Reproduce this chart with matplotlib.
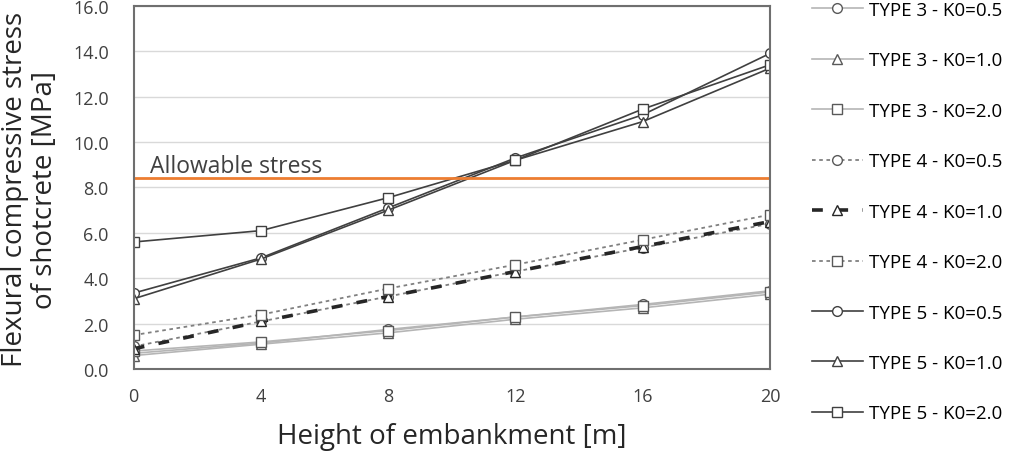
import matplotlib.pyplot as plt

plt.rcParams['font.family'] = ['Open Sans', 'DejaVu Sans']

height = [0, 4, 8, 12, 16, 20]

type3_k05 = [0.7, 1.15, 1.75, 2.3, 2.85, 3.45]
type3_k10 = [0.6, 1.1, 1.6, 2.2, 2.7, 3.3]
type3_k20 = [0.8, 1.2, 1.7, 2.3, 2.8, 3.4]
type4_k05 = [1.0, 2.1, 3.2, 4.3, 5.35, 6.4]
type4_k10 = [0.9, 2.1, 3.2, 4.3, 5.4, 6.5]
type4_k20 = [1.5, 2.4, 3.55, 4.6, 5.7, 6.8]
type5_k05 = [3.35, 4.9, 7.1, 9.3, 11.2, 13.9]
type5_k10 = [3.1, 4.85, 7.0, 9.2, 10.9, 13.25]
type5_k20 = [5.6, 6.1, 7.55, 9.2, 11.45, 13.4]

allowable = 8.4

fig = plt.figure(figsize=(10.13, 4.52), dpi=100)
ax = fig.add_axes([0.132, 0.181, 0.628, 0.804])

gray3 = '#b5b5b5'
gray4 = '#808080'
dark5 = '#404040'
mk = dict(markersize=7, markerfacecolor='white', markeredgewidth=1.0)

ax.plot(height, type3_k05, '-', color=gray3, lw=1.2, marker='o', markeredgecolor='#595959', label='TYPE 3 - K0=0.5', **mk)
ax.plot(height, type3_k10, '-', color=gray3, lw=1.2, marker='^', markeredgecolor='#595959', label='TYPE 3 - K0=1.0', **mk)
ax.plot(height, type3_k20, '-', color=gray3, lw=1.2, marker='s', markeredgecolor='#595959', label='TYPE 3 - K0=2.0', **mk)
ax.plot(height, type4_k05, color=gray4, lw=1.3, ls=(0, (2, 2)), marker='o', markeredgecolor='#595959', label='TYPE 4 - K0=0.5', **mk)
ax.plot(height, type4_k10, color='#262626', lw=2.6, ls=(0, (3, 4)), marker='^', markeredgecolor='#262626', label='TYPE 4 - K0=1.0', **mk)
ax.plot(height, type4_k20, color=gray4, lw=1.3, ls=(0, (2, 2)), marker='s', markeredgecolor='#595959', label='TYPE 4 - K0=2.0', **mk)
ax.plot(height, type5_k05, '-', color=dark5, lw=1.2, marker='o', markeredgecolor=dark5, label='TYPE 5 - K0=0.5', **mk)
ax.plot(height, type5_k10, '-', color=dark5, lw=1.2, marker='^', markeredgecolor=dark5, label='TYPE 5 - K0=1.0', **mk)
ax.plot(height, type5_k20, '-', color=dark5, lw=1.2, marker='s', markeredgecolor=dark5, label='TYPE 5 - K0=2.0', **mk)

ax.axhline(allowable, color='#ED7D31', lw=2)
ax.text(0.5, allowable + 0.27, 'Allowable stress', fontsize=16.5, color='#404040', va='baseline')

ax.set_xlim(0, 20)
ax.set_ylim(0, 16)
ax.set_xticks(height)
ax.set_yticks(range(0, 17, 2))
ax.set_yticklabels([f'{v:.1f}' for v in range(0, 17, 2)])
ax.grid(axis='y', color='#d9d9d9', lw=1)
ax.set_axisbelow(True)
ax.tick_params(length=0, labelsize=13, labelcolor='#404040')
ax.tick_params(axis='y', pad=18)
ax.tick_params(axis='x', pad=13)
for s in ax.spines.values():
    s.set_color('#6f6f6f')
    s.set_linewidth(1.5)

ax.set_xlabel('Height of embankment [m]', fontsize=20, color='#262626', labelpad=12)
fig.text(0.001, 0.58, 'Flexural compressive stress\nof shotcrete [MPa]', rotation=90,
         fontsize=20, color='#262626', ha='left', va='center', linespacing=1.1,
         multialignment='center')

handles, labels = ax.get_legend_handles_labels()
fig.legend(handles, labels, loc='upper left', bbox_to_anchor=(0.785, 1.033), frameon=False,
           fontsize=13.5, labelspacing=1.73, handlelength=2.7, handletextpad=0.35)

fig.savefig('out.png', dpi=100)
